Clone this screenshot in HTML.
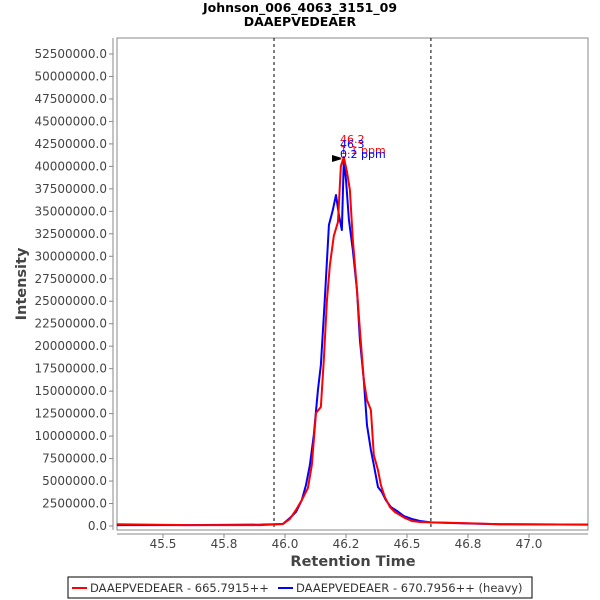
<!DOCTYPE html>
<html><head><meta charset="utf-8"><style>
body{margin:0;background:#fff;}
svg{display:block;font-family:"DejaVu Sans","Liberation Sans",sans-serif;}
</style></head><body>
<svg id="chart" width="600" height="600">
<rect width="600" height="600" fill="#fff"/>
<text x="300" y="12" text-anchor="middle" font-size="12.5" font-weight="bold">Johnson_006_4063_3151_09</text>
<text x="300" y="26" text-anchor="middle" font-size="12.5" font-weight="bold">DAAEPVEDEAER</text>
<rect x="117" y="38" width="471" height="492" fill="#fff" stroke="#888"/>
<g id="ticks"></g>
<g id="series"></g>
<text x="353" y="566" text-anchor="middle" font-size="14.5" font-weight="bold" fill="#444">Retention Time</text>
<text transform="translate(26,284) rotate(-90)" text-anchor="middle" font-size="14.5" font-weight="bold" fill="#444">Intensity</text>
<g font-size="11">
<text x="340" y="143" fill="red">46.2</text>
<text x="340" y="148" fill="blue">46.3</text>
<text x="340" y="154" fill="red">1.1 ppm</text>
<text x="340" y="158" fill="blue">0.2 ppm</text>
<polygon points="332,155 342,158 332,161" fill="#000"/>
<polygon points="332,157 342,159 332,162" fill="#000"/>
</g>
<g>
<rect x="68" y="577" width="464" height="21" fill="#fff" stroke="#000"/>
<line x1="72" y1="588" x2="87" y2="588" stroke="red" stroke-width="2"/>
<text x="90" y="592" font-size="11.5" fill="#333">DAAEPVEDEAER - 665.7915++</text>
<line x1="278" y1="588" x2="293" y2="588" stroke="blue" stroke-width="2"/>
<text x="296" y="592" font-size="11.5" fill="#333">DAAEPVEDEAER - 670.7956++ (heavy)</text>
</g>
</svg>
<script>
const xTicks=[45.5,45.75,46.0,46.25,46.5,46.75,47.0];
const xTickLabels=["45.5","45.8","46.0","46.2","46.5","46.8","47.0"];
const yTicks=[0,2.5,5,7.5,10,12.5,15,17.5,20,22.5,25,27.5,30,32.5,35,37.5,40,42.5,45,47.5,50,52.5];
const markerTimes=[45.955,46.598];
const redTimes=[45.311,45.6,45.9,45.991,46.020,46.045,46.069,46.094,46.110,46.127,46.147,46.159,46.172,46.184,46.200,46.217,46.229,46.241,46.254,46.266,46.278,46.295,46.307,46.323,46.336,46.352,46.364,46.381,46.393,46.409,46.430,46.450,46.471,46.491,46.520,46.553,46.598,46.717,46.881,47.242];
const redValues=[0.2,0.1,0.1,0.22,0.78,1.78,2.89,4.23,6.79,12.57,13.24,18.46,25.14,29.03,32.26,33.81,40.04,41.04,39.38,37.37,31.81,26.25,21.8,16.24,14.02,12.9,7.9,6.23,4.56,3.23,2.11,1.56,1.22,0.89,0.56,0.44,0.4,0.33,0.2,0.15];
const blueTimes=[45.311,45.6,45.9,45.991,46.020,46.045,46.069,46.086,46.102,46.118,46.135,46.147,46.163,46.180,46.196,46.209,46.221,46.233,46.241,46.250,46.262,46.278,46.295,46.307,46.323,46.336,46.352,46.364,46.381,46.397,46.413,46.434,46.459,46.487,46.520,46.553,46.598,46.717,46.881,47.242];
const blueValues=[0.1,0.1,0.15,0.22,0.89,1.56,2.89,4.56,6.79,10.12,15.13,17.91,25.14,33.48,35.15,36.82,34.59,32.92,40.71,38.49,34.04,30.7,26.25,20.69,16.24,11.23,8.45,6.79,4.34,3.78,2.89,2.11,1.67,1.11,0.78,0.56,0.4,0.3,0.2,0.15];
const X=t=>163+(t-45.5)*244;
const Y=v=>526-v*(22.476/2.5);
const NS="http://www.w3.org/2000/svg";
const tg=document.getElementById('ticks'), sg=document.getElementById('series');
function mk(tag,attrs,parent){const e=document.createElementNS(NS,tag);for(const k in attrs)e.setAttribute(k,attrs[k]);parent.appendChild(e);return e;}
mk('line',{x1:117,y1:534,x2:588,y2:534,stroke:'#888'},tg);
mk('line',{x1:113,y1:38,x2:113,y2:530,stroke:'#888'},tg);
xTicks.forEach((t,i)=>{
 mk('line',{x1:X(t),y1:534,x2:X(t),y2:538,stroke:'#888'},tg);
 const tx=mk('text',{x:X(t),y:548,'text-anchor':'middle','font-size':12,fill:'#444'},tg);
 tx.textContent=xTickLabels[i];
 
 
});
yTicks.forEach(v=>{
 mk('line',{x1:109,y1:Y(v),x2:113,y2:Y(v),stroke:'#888'},tg);
 const tx=mk('text',{x:107,y:Y(v)+4,'text-anchor':'end','font-size':12,fill:'#444'},tg);
 tx.textContent=(v*1e6).toFixed(1);
 
 
});
markerTimes.forEach(t=>{
 const l=mk('line',{x1:X(t),y1:38,x2:X(t),y2:530,stroke:'#000','stroke-dasharray':'3,3'},sg);
 
 
});
function line(ts,vs,col,name){
 const p=mk('polyline',{points:ts.map((t,i)=>X(t)+','+Y(vs[i])).join(' '),fill:'none',stroke:col,'stroke-width':2,'stroke-linejoin':'round'},sg);
 
 
}
line(blueTimes,blueValues,'blue','heavy-series-line');
line(redTimes,redValues,'red','light-series-line');
</script>
</body></html>
